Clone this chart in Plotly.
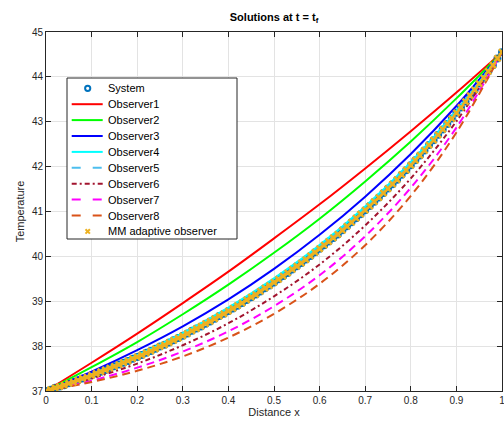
import plotly.graph_objects as go

# ---- data ----
x_line = [0.0, 0.1, 0.2, 0.3, 0.4, 0.5, 0.6, 0.7, 0.8, 0.9, 1.0]
obs1 = [37.00, 37.63, 38.28, 38.96, 39.66, 40.40, 41.16, 41.96, 42.79, 43.65, 44.55]
obs2 = [37.00, 37.53, 38.09, 38.71, 39.37, 40.08, 40.84, 41.67, 42.56, 43.52, 44.55]
obs3 = [37.00, 37.43, 37.91, 38.44, 39.04, 39.72, 40.48, 41.33, 42.28, 43.35, 44.55]
obs4 = [37.00, 37.37, 37.80, 38.29, 38.86, 39.51, 40.25, 41.11, 42.10, 43.24, 44.55]
obs5 = [37.00, 37.36, 37.77, 38.25, 38.80, 39.45, 40.20, 41.06, 42.06, 43.21, 44.55]
obs6 = [37.00, 37.28, 37.61, 38.02, 38.51, 39.11, 39.82, 40.69, 41.74, 43.01, 44.55]
obs7 = [37.00, 37.23, 37.52, 37.88, 38.33, 38.89, 39.58, 40.45, 41.53, 42.87, 44.55]
obs8 = [37.00, 37.20, 37.45, 37.77, 38.19, 38.72, 39.39, 40.25, 41.35, 42.76, 44.55]

x_pts = [i / 100 for i in range(101)]
system_vals = [
    37.00, 37.03, 37.07, 37.10, 37.13, 37.17, 37.20, 37.24, 37.28, 37.31,
    37.35, 37.39, 37.43, 37.47, 37.51, 37.55, 37.59, 37.63, 37.67, 37.72,
    37.76, 37.80, 37.85, 37.89, 37.94, 37.99, 38.03, 38.08, 38.13, 38.18,
    38.23, 38.28, 38.34, 38.39, 38.44, 38.50, 38.55, 38.61, 38.67, 38.72,
    38.78, 38.84, 38.90, 38.96, 39.03, 39.09, 39.15, 39.22, 39.29, 39.35,
    39.42, 39.49, 39.56, 39.63, 39.71, 39.78, 39.85, 39.93, 40.01, 40.09,
    40.17, 40.25, 40.33, 40.41, 40.49, 40.58, 40.67, 40.76, 40.85, 40.94,
    41.03, 41.12, 41.22, 41.31, 41.41, 41.51, 41.61, 41.71, 41.82, 41.92,
    42.03, 42.14, 42.25, 42.36, 42.48, 42.59, 42.71, 42.83, 42.95, 43.07,
    43.20, 43.32, 43.45, 43.58, 43.71, 43.85, 43.98, 44.12, 44.26, 44.41,
    44.55,
]
mm_vals = [
    37.00, 37.03, 37.07, 37.10, 37.13, 37.17, 37.20, 37.24, 37.28, 37.31,
    37.35, 37.39, 37.43, 37.47, 37.51, 37.55, 37.59, 37.63, 37.67, 37.72,
    37.76, 37.80, 37.85, 37.89, 37.94, 37.99, 38.03, 38.08, 38.13, 38.18,
    38.23, 38.28, 38.34, 38.39, 38.44, 38.50, 38.55, 38.61, 38.67, 38.72,
    38.78, 38.84, 38.90, 38.96, 39.03, 39.09, 39.15, 39.22, 39.29, 39.35,
    39.42, 39.49, 39.56, 39.63, 39.71, 39.78, 39.85, 39.93, 40.01, 40.09,
    40.17, 40.25, 40.33, 40.41, 40.49, 40.58, 40.67, 40.76, 40.85, 40.94,
    41.03, 41.12, 41.22, 41.31, 41.41, 41.51, 41.61, 41.71, 41.82, 41.92,
    42.03, 42.14, 42.25, 42.36, 42.48, 42.59, 42.71, 42.83, 42.95, 43.07,
    43.20, 43.32, 43.45, 43.58, 43.71, 43.85, 43.98, 44.12, 44.26, 44.41,
    44.55,
]
x_ticks = [0, 0.1, 0.2, 0.3, 0.4, 0.5, 0.6, 0.7, 0.8, 0.9, 1]
x_tick_labels = ["0", "0.1", "0.2", "0.3", "0.4", "0.5", "0.6", "0.7", "0.8", "0.9", "1"]
y_ticks = [37, 38, 39, 40, 41, 42, 43, 44, 45]

FONT = "Liberation Sans, Arial, sans-serif"
AX = "#262626"

W, H = 504, 421
ML, MR, MT, MB = 46, 2, 32, 30
PW, PH = W - ML - MR, H - MT - MB


def px(xp):  # page pixel -> paper x
    return (xp - ML) / PW


def py(yp):  # page pixel -> paper y
    return (H - MB - yp) / PH


fig = go.Figure()

SYS_COL = "#0072BD"
MM_COL = "#EDB120"

fig.add_trace(go.Scatter(
    x=x_pts, y=system_vals, mode="markers", name="System", showlegend=False,
    marker=dict(symbol="circle-open", size=6, color=SYS_COL, line=dict(width=2, color=SYS_COL)),
))

line_specs = [
    ("Observer1", obs1, "#FF0000", "solid", "solid"),
    ("Observer2", obs2, "#00FF00", "solid", "solid"),
    ("Observer3", obs3, "#0000FF", "solid", "solid"),
    ("Observer4", obs4, "#00FFFF", "solid", "solid"),
    ("Observer5", obs5, "#4DBEEE", "8px,5px", "9px,12px"),
    ("Observer6", obs6, "#A2142F", "5px,3px,2px,3px", "5px,3px,2px,3px"),
    ("Observer7", obs7, "#FF00FF", "8px,5px", "9px,12px"),
    ("Observer8", obs8, "#D95319", "8px,5px", "9px,12px"),
]
for name, vals, col, dash, _ in line_specs:
    fig.add_trace(go.Scatter(
        x=x_line, y=vals, mode="lines", name=name, showlegend=False,
        line=dict(color=col, width=2, dash=dash, shape="spline"),
    ))

fig.add_trace(go.Scatter(
    x=x_pts, y=mm_vals, mode="markers", name="MM adaptive observer", showlegend=False,
    marker=dict(symbol="x-thin-open", size=6, color=MM_COL, line=dict(width=2.5, color=MM_COL)),
))

# ---- custom legend (layout only) ----
shapes = []
annotations = []
LX0, LX1, LY0, LY1 = 67, 237, 78, 239
shapes.append(dict(type="rect", xref="paper", yref="paper",
                   x0=px(LX0), x1=px(LX1), y0=py(LY1), y1=py(LY0),
                   line=dict(color=AX, width=1), fillcolor="white", layer="above"))
row0, step = 88.3, 15.9
names = ["System"] + [s[0] for s in line_specs] + ["MM adaptive observer"]
for i, nm in enumerate(names):
    yc = row0 + i * step
    annotations.append(dict(text=nm, xref="paper", yref="paper", x=px(106), y=py(yc),
                            xanchor="left", yanchor="middle", showarrow=False,
                            font=dict(family=FONT, size=11, color="#000000")))
    if i == 0:
        r = 2.6
        shapes.append(dict(type="circle", xref="paper", yref="paper",
                           x0=px(87.7 - r), x1=px(87.7 + r), y0=py(yc + r), y1=py(yc - r),
                           line=dict(color=SYS_COL, width=2), layer="above"))
    elif i == len(names) - 1:
        r = 2.2
        for (a, b) in [((-r, -r), (r, r)), ((-r, r), (r, -r))]:
            shapes.append(dict(type="line", xref="paper", yref="paper",
                               x0=px(87.7 + a[0]), x1=px(87.7 + b[0]),
                               y0=py(yc + a[1]), y1=py(yc + b[1]),
                               line=dict(color=MM_COL, width=2), layer="above"))
    else:
        _, _, col, _, ldash = line_specs[i - 1]
        shapes.append(dict(type="line", xref="paper", yref="paper",
                           x0=px(71.7), x1=px(102.7), y0=py(yc), y1=py(yc),
                           line=dict(color=col, width=2, dash=ldash), layer="above"))

axis_common = dict(
    showline=True, linecolor=AX, linewidth=1, mirror="allticks",
    ticks="inside", ticklen=5, tickcolor=AX, tickwidth=1,
    showgrid=True, gridcolor="#E3E3E3", gridwidth=1, automargin=False,
    zeroline=False, tickfont=dict(family=FONT, size=10, color=AX),
    ticklabeloverflow="allow",
)

fig.update_layout(
    width=W, height=H, autosize=False,
    margin=dict(l=ML, r=MR, t=MT, b=MB),
    paper_bgcolor="white", plot_bgcolor="white",
    font=dict(family=FONT, size=11, color=AX),
    title=dict(text="<b>Solutions at t = t<sub>f</sub></b>", x=(ML + PW / 2) / W, xanchor="center",
               y=1 - 17 / H, yanchor="middle", font=dict(family=FONT, size=11, color="#000000")),
    xaxis=dict(range=[0, 1], tickvals=x_ticks, ticktext=x_tick_labels,
               title=dict(text="Distance x", font=dict(family=FONT, size=11, color=AX), standoff=3),
               **axis_common),
    yaxis=dict(range=[37, 45], tickvals=y_ticks,
               title=dict(text="Temperature", font=dict(family=FONT, size=11, color=AX), standoff=5),
               **axis_common),
    shapes=shapes,
    annotations=annotations,
    showlegend=False,
)

fig.write_html(
    "out.html",
    config={"responsive": False, "displayModeBar": False},
    post_script="document.body.style.margin='0px';document.body.style.padding='0px';"
                "document.body.style.overflow='hidden';",
)
